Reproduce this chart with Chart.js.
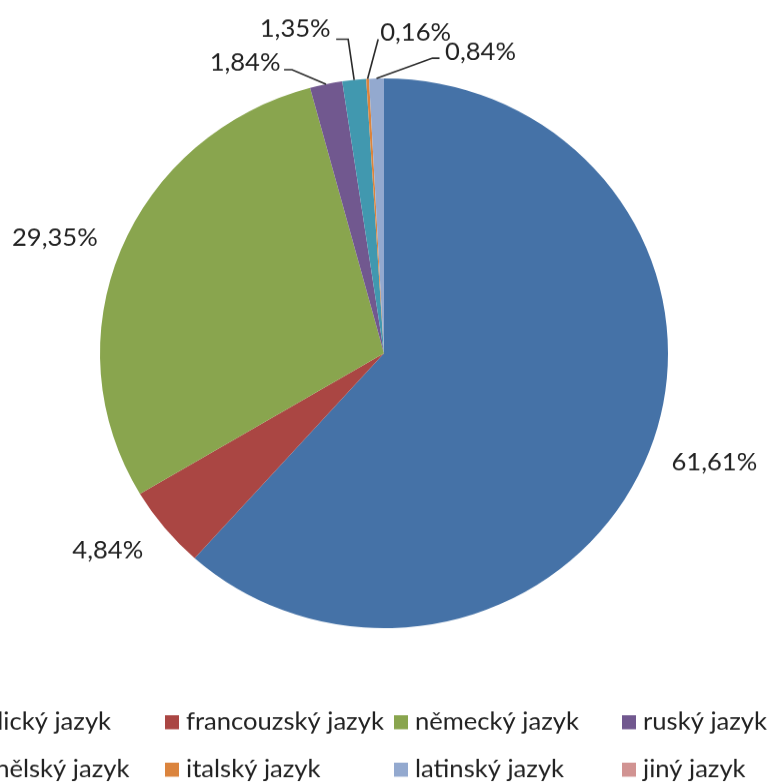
<!DOCTYPE html>
<html>
<head>
<meta charset="utf-8">
<script src="https://cdn.jsdelivr.net/npm/chart.js@4"></script>
<style>
  html, body { margin: 0; padding: 0; background: #fff; overflow: hidden; }
</style>
</head>
<body>
<canvas id="chart" width="772" height="808" style="display:block; width:772px; height:782px;"></canvas>
<script>
"use strict";

const languages = ['anglický jazyk', 'francouzský jazyk', 'německý jazyk', 'ruský jazyk',
                   'španělský jazyk', 'italský jazyk', 'latinský jazyk', 'jiný jazyk'];
const shares = [61.61, 4.84, 29.35, 1.84, 1.35, 0.16, 0.84, 0];
const colors = ['#4572A7', '#AA4643', '#89A54E', '#71588F', '#4198AF', '#DB843D', '#93A9CF', '#D19392'];

const text_font = '25.6px Lato';
const text_color = '#222';

// label placement relative to the outer midpoint of each slice
// leader: [elbow, tail] points for the small slices
const label_place = [
    { dx: 65, dy: 11 },
    { dx: -57, dy: 23 },
    { dx: -66, dy: -13 },
    { dx: -81, dy: -22, leader: [[-34, -15], [-42, -15]] },
    { dx: -59, dy: -53, leader: [[-6, -42], [-18, -42]] },
    { dx: 48, dy: -48, leader: [[10.6, -41], [10.6, -41]] },
    { dx: 104, dy: -27, leader: [[56, -21], [63, -21]] },
    null
];

function format_share(v) {
    return v.toFixed(2).replace('.', ',') + '%';
}

const pie_labels = {
    id: 'pie_labels',
    afterDatasetsDraw(chart) {
        const ctx = chart.ctx;
        const arcs = chart.getDatasetMeta(0).data;
        ctx.save();
        ctx.font = text_font;
        ctx.fillStyle = text_color;
        ctx.textAlign = 'center';
        ctx.textBaseline = 'middle';
        arcs.forEach((arc, i) => {
            const place = label_place[i];
            if (!place || shares[i] <= 0) return;
            const p = arc.getProps(['x', 'y', 'startAngle', 'endAngle', 'outerRadius'], true);
            const mid = (p.startAngle + p.endAngle) / 2;
            const ex = p.x + Math.cos(mid) * p.outerRadius;
            const ey = p.y + Math.sin(mid) * p.outerRadius;
            if (place.leader) {
                ctx.strokeStyle = '#2a2a2a';
                ctx.lineWidth = 1.6;
                ctx.beginPath();
                ctx.moveTo(ex, ey);
                ctx.lineTo(ex + place.leader[0][0], ey + place.leader[0][1]);
                ctx.lineTo(ex + place.leader[1][0], ey + place.leader[1][1]);
                ctx.stroke();
            }
            ctx.fillText(format_share(shares[i]), ex + place.dx, ey + place.dy);
        });
        ctx.restore();
    }
};

// excel style legend laid out in a fixed grid
const legend_cols = [-64, 165, 394, 622];
const legend_rows = [746, 795];

const grid_legend = {
    id: 'grid_legend',
    afterDraw(chart) {
        const ctx = chart.ctx;
        ctx.save();
        ctx.font = text_font;
        ctx.textBaseline = 'middle';
        ctx.textAlign = 'left';
        languages.forEach((name, i) => {
            const x = legend_cols[i % 4];
            const y = legend_rows[Math.floor(i / 4)];
            ctx.fillStyle = colors[i];
            ctx.fillRect(x, y - 7, 14, 14.5);
            ctx.fillStyle = text_color;
            ctx.fillText(name, x + 21, y);
        });
        ctx.restore();
    }
};

new Chart(document.getElementById('chart'), {
    type: 'pie',
    data: {
        labels: languages,
        datasets: [{
            data: shares,
            backgroundColor: colors,
            borderWidth: 0,
            hoverOffset: 0
        }]
    },
    options: {
        responsive: false,
        animation: false,
        layout: { padding: { left: 100, right: 104, top: 81, bottom: 159 } },
        plugins: {
            legend: { display: false },
            tooltip: { enabled: false }
        }
    },
    plugins: [pie_labels, grid_legend]
});
</script>
</body>
</html>
